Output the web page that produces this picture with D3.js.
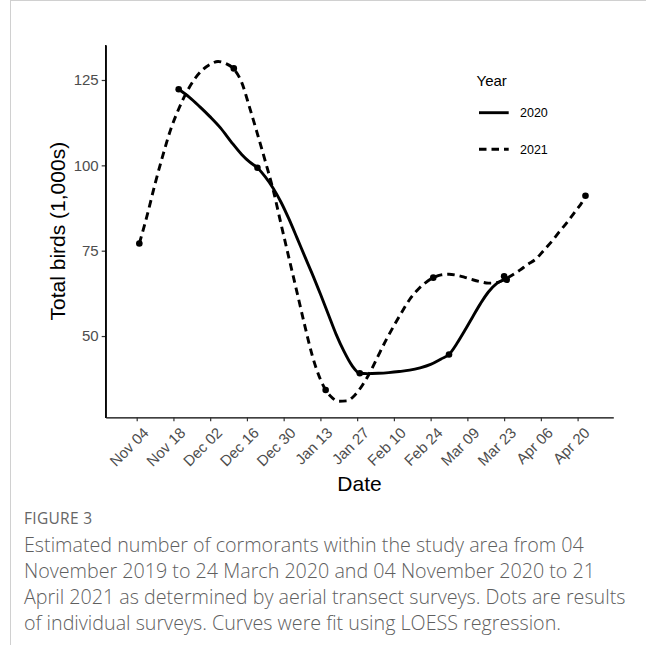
<!DOCTYPE html>
<html>
<head>
<meta charset="utf-8">
<script src="https://cdn.jsdelivr.net/npm/d3@7"></script>
<style>
  html, body { margin: 0; padding: 0; background: #fff; }
  svg { display: block; }
</style>
</head>
<body>
<svg id="chart" width="646" height="645"></svg>
<script>
// ---------------- DATA ----------------
// Survey results (thousands of birds); 2021 season plotted on the same calendar axis
const surveyDates2020 = ["2019-11-20", "2019-12-20", "2020-01-28", "2020-03-02", "2020-03-24"];
const surveyValues2020 = [122.3, 99.3, 39.1, 44.6, 66.5];
const surveyDates2021 = ["2019-11-05", "2019-12-11", "2020-01-15", "2020-02-25", "2020-03-23", "2020-04-23"];
const surveyValues2021 = [77.1, 128.4, 34.2, 67.1, 67.5, 91.1];

// LOESS curves: days after 04 Nov, fitted value
const fitDays2020 = [16, 20, 24, 28, 32, 36, 40, 43, 46, 49, 52, 55, 58, 61, 64, 67, 70, 73, 76, 79, 82, 85, 88, 92, 96, 100, 104, 108, 112, 116, 119, 122, 125, 128, 131, 134, 137, 139, 141];
const fitValues2020 = [122.3, 120.0, 117.2, 114.2, 110.9, 106.9, 103.2, 101.0, 99.3, 96.6, 93.3, 89.2, 84.3, 78.9, 73.4, 68.0, 62.3, 56.4, 50.5, 45.5, 41.4, 39.1, 39.0, 39.1, 39.3, 39.6, 40.0, 40.7, 41.7, 43.3, 44.6, 47.8, 51.6, 55.6, 59.5, 62.9, 65.3, 66.2, 66.6];
const fitDays2021 = [1, 4, 7, 10, 13, 16, 19, 22, 25, 28, 31, 34, 37, 40, 43, 46, 49, 52, 55, 58, 61, 64, 67, 70, 72, 74, 77, 80, 83, 86, 89, 92, 95, 98, 101, 104, 107, 110, 113, 116, 119, 122, 125, 128, 131, 134, 137, 140, 143, 146, 149, 152, 155, 158, 161, 164, 167, 170, 171];
const fitValues2021 = [77.1, 85.4, 94.6, 103.0, 110.6, 116.5, 121.4, 125.2, 127.9, 129.6, 130.4, 129.8, 128.2, 124.3, 117.0, 109.2, 101.2, 92.8, 82.8, 72.9, 63.1, 53.2, 44.0, 37.3, 34.2, 32.3, 30.9, 31.0, 32.6, 35.6, 39.5, 44.2, 48.8, 53.0, 57.0, 60.7, 63.5, 65.6, 67.1, 67.9, 68.1, 67.8, 67.2, 66.5, 65.9, 65.5, 65.6, 66.5, 67.8, 69.3, 71.0, 72.5, 75.0, 77.6, 80.5, 83.3, 86.4, 89.6, 91.1];

const tickDates = ["2019-11-04", "2019-11-18", "2019-12-02", "2019-12-16", "2019-12-30", "2020-01-13", "2020-01-27", "2020-02-10", "2020-02-24", "2020-03-09", "2020-03-23", "2020-04-06", "2020-04-20"];
const yTicks = [50, 75, 100, 125];
const seriesNames = ["2020", "2021"];

const captionTitle = "FIGURE 3";
const captionLines = [
  "Estimated number of cormorants within the study area from 04",
  "November 2019 to 24 March 2020 and 04 November 2020 to 21",
  "April 2021 as determined by aerial transect surveys. Dots are results",
  "of individual surveys. Curves were fit using LOESS regression."
];

// ---------------- CHART ----------------
const svg = d3.select("#chart");
const parse = d3.utcParse("%Y-%m-%d");
const seasonStart = parse("2019-11-04");
const dayMs = 864e5;
const fromDays = d => new Date(seasonStart.getTime() + d * dayMs);

const pLeft = 105.7, pRight = 613.3, pTop = 45, pBottom = 417.3;
const axisFont = "Liberation Sans, Arial, sans-serif";

const x = d3.scaleUtc()
  .domain([fromDays(-11.81), fromDays(181.6)])
  .range([pLeft, pRight]);
const y = d3.scaleLinear()
  .domain([26.2, 135.25])
  .range([pBottom, pTop]);

// page borders (article frame)
svg.append("line").attr("x1", 10.5).attr("x2", 10.5).attr("y1", 0).attr("y2", 645)
  .attr("stroke", "#d0d0d0").attr("stroke-width", 1);
svg.append("line").attr("x1", 10).attr("x2", 646).attr("y1", 0.5).attr("y2", 0.5)
  .attr("stroke", "#d0d0d0").attr("stroke-width", 1);

// axes
const xAxis = d3.axisBottom(x)
  .tickValues(tickDates.map(parse))
  .tickFormat(d3.utcFormat("%b %d"))
  .tickSize(4).tickSizeOuter(0);
const gx = svg.append("g").attr("transform", `translate(0,${pBottom})`).call(xAxis);
gx.select(".domain").attr("stroke", "#000").attr("stroke-width", 1.3);
gx.selectAll(".tick line").attr("stroke", "#333").attr("stroke-width", 1.2);
gx.selectAll(".tick text")
  .attr("font-family", axisFont)
  .attr("font-size", 15)
  .attr("fill", "#4d4d4d")
  .attr("text-anchor", "end")
  .attr("x", 0).attr("y", 0).attr("dy", "0.7em")
  .attr("transform", "translate(5,9) rotate(-45)");

const yAxis = d3.axisLeft(y).tickValues(yTicks).tickSize(4).tickSizeOuter(0);
const gy = svg.append("g").attr("transform", `translate(${pLeft},0)`).call(yAxis);
gy.select(".domain").attr("stroke", "#000").attr("stroke-width", 1.3);
gy.selectAll(".tick line").attr("stroke", "#333").attr("stroke-width", 1.2);
gy.selectAll(".tick text")
  .attr("font-family", axisFont)
  .attr("font-size", 15)
  .attr("fill", "#4d4d4d")
  .attr("x", -7);

// extend axis lines to meet at corner
svg.append("line").attr("x1", pLeft).attr("x2", pLeft).attr("y1", pTop).attr("y2", pBottom + 0.6)
  .attr("stroke", "#000").attr("stroke-width", 1.3);

// axis titles
svg.append("text").attr("x", (pLeft + pRight) / 2).attr("y", 491)
  .attr("text-anchor", "middle")
  .attr("font-family", axisFont)
  .attr("font-size", 21).attr("fill", "#000").text("Date");
svg.append("text")
  .attr("transform", `translate(65,${(pTop + pBottom) / 2}) rotate(-90)`)
  .attr("text-anchor", "middle")
  .attr("font-family", axisFont)
  .attr("font-size", 21).attr("fill", "#000").text("Total birds (1,000s)");

// curves
const line = d3.line()
  .x(d => x(d[0])).y(d => y(d[1]))
  .curve(d3.curveMonotoneX);
const fit2020 = fitDays2020.map((d, i) => [fromDays(d), fitValues2020[i]]);
const fit2021 = fitDays2021.map((d, i) => [fromDays(d), fitValues2021[i]]);
const dashPattern = "7.5,5";

svg.append("path").datum(fit2021).attr("d", line)
  .attr("fill", "none").attr("stroke", "#000").attr("stroke-width", 2.9)
  .attr("stroke-dasharray", dashPattern);
svg.append("path").datum(fit2020).attr("d", line)
  .attr("fill", "none").attr("stroke", "#000").attr("stroke-width", 2.9);

// points
const pts = surveyDates2020.map((d, i) => [parse(d), surveyValues2020[i]])
  .concat(surveyDates2021.map((d, i) => [parse(d), surveyValues2021[i]]));
svg.append("g").selectAll("circle").data(pts).join("circle")
  .attr("cx", d => x(d[0])).attr("cy", d => y(d[1])).attr("r", 3.3).attr("fill", "#000");

// legend
const lg = svg.append("g");
lg.append("text").attr("x", 476.5).attr("y", 85.5)
  .attr("font-family", axisFont)
  .attr("font-size", 15).attr("fill", "#000").text("Year");
const legendY = [112.7, 149.3];
seriesNames.forEach((name, i) => {
  lg.append("line").attr("x1", 479).attr("x2", 508.7).attr("y1", legendY[i]).attr("y2", legendY[i])
    .attr("stroke", "#000").attr("stroke-width", 2.9)
    .attr("stroke-dasharray", i === 1 ? dashPattern : null);
  lg.append("text").attr("x", 520).attr("y", legendY[i]).attr("dy", "0.36em")
    .attr("font-family", axisFont)
    .attr("font-size", 12.5).attr("fill", "#000").text(name);
});

// caption
svg.append("text").attr("x", 24).attr("y", 524)
  .attr("font-family", "Open Sans, Noto Sans, sans-serif")
  .attr("font-size", 15.5).attr("fill", "#666").attr("letter-spacing", 0.3)
  .text(captionTitle);
captionLines.forEach((t, i) => {
  svg.append("text").attr("x", 24).attr("y", 552 + i * 26)
    .attr("font-family", "Open Sans, Noto Sans, sans-serif")
    .attr("font-size", 19.7).attr("font-weight", 300).attr("fill", "#5f5f5f")
    .text(t);
});
</script>
</body>
</html>
